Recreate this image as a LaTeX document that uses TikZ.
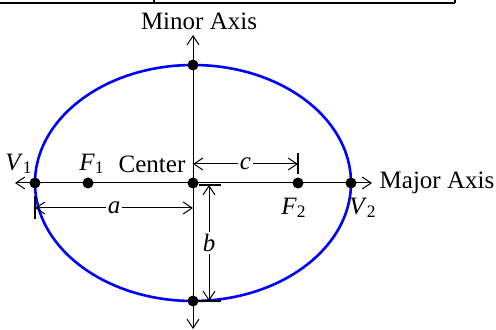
\documentclass[tikz,border=0pt]{standalone}
\usepackage{fontspec}
\setmainfont{Liberation Serif}
\usetikzlibrary{arrows.meta}
\tikzset{
  dot/.style={circle,fill=black,inner sep=0pt,minimum size=5.5pt},
  axisline/.style={line width=0.5pt,{Straight Barb[length=4.5pt,width=6pt]}-{Straight Barb[length=4.5pt,width=6pt]}},
  dimline/.style={line width=0.5pt,{Straight Barb[length=4.5pt,width=6pt]}-{Straight Barb[length=4.5pt,width=6pt]}},
  tickline/.style={line width=0.55pt},
  lbl/.style={font=\fontsize{12.5}{14}\selectfont,inner sep=1pt},
}
\begin{document}
\begin{tikzpicture}[x=0.5pt,y=-0.5pt]
    \useasboundingbox (0,0) rectangle (496,330);
    % edge of the table above
    \draw[line width=1pt] (0,3) -- (455,3) (154,0) -- (154,3) (455,0) -- (455,3);
    % ellipse
    \coordinate (C) at (193,183);
    \draw[blue, line width=1.3pt] (C) ellipse [x radius=158, y radius=118];
    % axes
    \coordinate (xl) at (15,183);
    \coordinate (xr) at (372,183);
    \coordinate (yt) at (193,35);
    \coordinate (yb) at (193,329);
    \draw[axisline] (xl) -- (xr);
    \draw[axisline] (yt) -- (yb);
    \node[lbl] (major) at (437,183) {Major Axis};
    \node[lbl] (minor) at (199,21) {Minor Axis};
    % points on the axes
    \node[dot] (V1) at (35,183) {};
    \node[dot] (F1) at (88,183) {};
    \node[dot] (ctr) at (C) {};
    \node[dot] (F2) at (298,183) {};
    \node[dot] (V2) at (351,183) {};
    \node[dot] (top) at (193,65) {};
    \node[dot] (bot) at (193,301) {};
    \node[lbl] (v1lbl) at (19,164) {\textit{V}\textsubscript{1}};
    \node[lbl] (f1lbl) at (92,164) {\textit{F}\textsubscript{1}};
    \node[lbl] (clbl) at (152,164) {Center};
    \node[lbl] (f2lbl) at (294,208) {\textit{F}\textsubscript{2}};
    \node[lbl] (v2lbl) at (363,208) {\textit{V}\textsubscript{2}};
    % a
    \coordinate (a1) at (35,208);
    \coordinate (a2) at (193,208);
    \draw[tickline] (35,196) -- (35,219);
    \draw[dimline] (a1) -- node[lbl,fill=white] {\textit{a}} (a2);
    % c
    \coordinate (c1) at (193,164);
    \coordinate (c2) at (298,164);
    \draw[tickline] (298,153) -- (298,174);
    \draw[dimline] (c1) -- node[lbl,fill=white] {\textit{c}} (c2);
    % b
    \coordinate (b1) at (209,185);
    \coordinate (b2) at (209,301);
    \draw[tickline] (199,185) -- (221,185) (199,301) -- (221,301);
    \draw[dimline] (b1) -- node[lbl,fill=white] {\textit{b}} (b2);
\end{tikzpicture}
\end{document}
